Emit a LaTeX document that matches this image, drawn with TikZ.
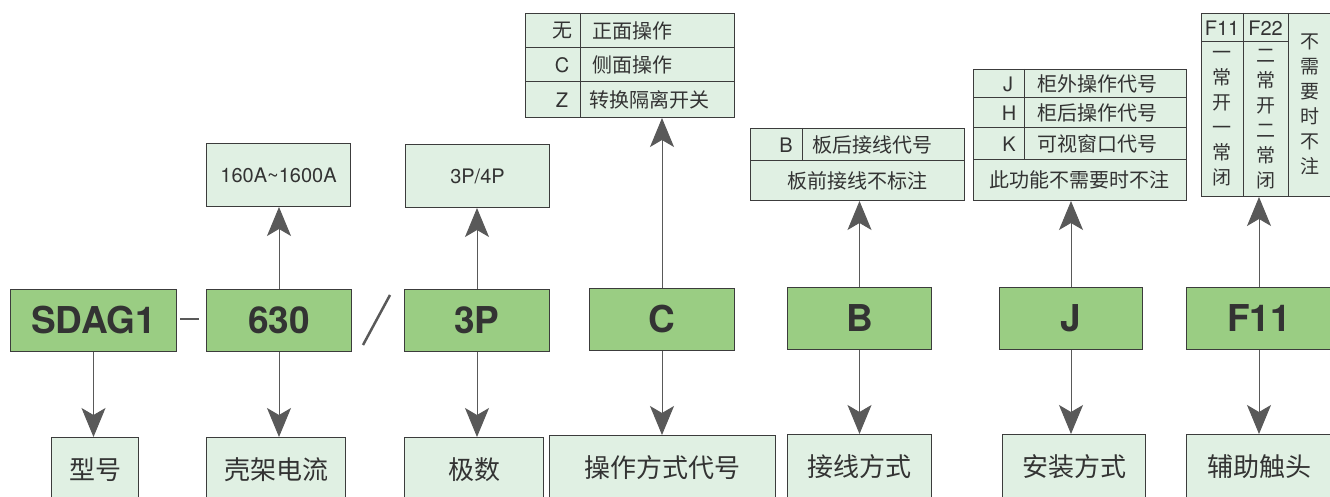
\documentclass[tikz,border=0pt]{standalone}
\usepackage{fontspec}
\setmainfont{TeX Gyre Heros}
\newfontfamily\cjk{Noto Sans CJK SC}
\usetikzlibrary{arrows.meta}
\definecolor{codegreen}{HTML}{9ACD83}
\definecolor{palegreen}{HTML}{E0F0E3}
\definecolor{boxline}{HTML}{3C3C3C}
\definecolor{arrowgray}{HTML}{595959}
\definecolor{txt}{HTML}{333333}
\tikzset{
  codebox/.style={draw=boxline, fill=codegreen, line width=1pt, anchor=north west, inner sep=0pt, minimum height=62pt, text=txt, font=\bfseries\fontsize{37}{37}\selectfont},
  namebox/.style={draw=boxline, fill=palegreen, line width=1pt, anchor=north west, inner sep=0pt, minimum height=64pt, text=txt, font=\cjk\fontsize{26}{26}\selectfont},
  infobox/.style={draw=boxline, fill=palegreen, line width=1pt, anchor=north west, inner sep=0pt, text=txt, font=\fontsize{20}{20}\selectfont},
  tabcode/.style={inner sep=0pt, text=txt, font=\fontsize{20}{20}\selectfont},
  tabtext/.style={inner sep=0pt, text=txt, font=\cjk\fontsize{20}{20}\selectfont},
  vtext/.style={inner sep=0pt, text=txt, align=center, font=\cjk\fontsize{19}{25}\selectfont},
  pointer/.style={draw=arrowgray, line width=1pt, -{Stealth[length=29pt,width=24pt,inset=7pt]}},
  sepline/.style={draw=arrowgray, line width=2.5pt}
}
\begin{document}
\begin{tikzpicture}[x=1pt,y=-1pt]
\useasboundingbox (0,0) rectangle (1330,497);

\node[codebox, minimum width=166pt] (sdag) at (10,289) {SDAG1};
\node[codebox, minimum width=145pt] (amp) at (206,289) {630};
\node[codebox, minimum width=145pt] (pole) at (404,289) {3P};
\node[codebox, minimum width=145pt] (oper) at (589,288) {C};
\node[codebox, minimum width=144pt] (wire) at (787,287) {B};
\node[codebox, minimum width=143pt] (mount) at (999,287) {J};
\node[codebox, minimum width=145pt] (aux) at (1186,287) {F11};
\draw[sepline] (180,319) -- (199,319);
\draw[sepline] (363,345) -- (390,295);

\node[namebox, minimum width=87pt] (model) at (51,437) {型号};
\node[namebox, minimum width=139pt] (frame) at (206,437) {壳架电流};
\node[namebox, minimum width=139pt] (poles) at (404,437) {极数};
\node[namebox, minimum width=226pt] (opmode) at (549,435) {操作方式代号};
\node[namebox, minimum width=144pt] (wiring) at (787,434) {接线方式};
\node[namebox, minimum width=143pt] (install) at (1002,434) {安装方式};
\node[namebox, minimum width=145pt] (contact) at (1186,434) {辅助触头};

\node[infobox, minimum width=144pt, minimum height=63pt] (ampinfo) at (206,143) {160A\textasciitilde1600A};
\node[infobox, minimum width=144pt, minimum height=63pt] (poleinfo) at (405,144) {3P/4P};

\node[infobox, minimum width=209pt, minimum height=104pt] (opinfo) at (525,13) {};
\draw[boxline, line width=1pt] (525,48) -- (734,48) (525,82) -- (734,82) (580,13) -- (580,117);
\node[tabcode] (op0) at (562,31) {\cjk 无};
\node[tabcode] (op1) at (562,65) {C};
\node[tabcode] (op2) at (562,100) {Z};
\node[tabtext, anchor=west] (op0t) at (592,31) {正面操作};
\node[tabtext, anchor=west] (op1t) at (592,65) {侧面操作};
\node[tabtext, anchor=west] (op2t) at (589,100) {转换隔离开关};

\node[infobox, minimum width=214pt, minimum height=72pt] (wireinfo) at (750,128) {};
\draw[boxline, line width=1pt] (750,161) -- (964,161) (802,128) -- (802,161);
\node[tabcode] (wr0) at (786,145) {B};
\node[tabtext, anchor=west] (wr0t) at (812,145) {板后接线代号};
\node[tabtext] (wr1t) at (857,181) {板前接线不标注};

\node[infobox, minimum width=213pt, minimum height=131pt] (mountinfo) at (973,69) {};
\draw[boxline, line width=1pt] (973,98) -- (1186,98) (973,128) -- (1186,128) (973,160) -- (1186,160) (1024,69) -- (1024,160);
\node[tabcode] (mt0) at (1008,84) {J};
\node[tabcode] (mt1) at (1009,113) {H};
\node[tabcode] (mt2) at (1009,144) {K};
\node[tabtext, anchor=west] (mt0t) at (1037,84) {柜外操作代号};
\node[tabtext, anchor=west] (mt1t) at (1037,113) {柜后操作代号};
\node[tabtext, anchor=west] (mt2t) at (1037,144) {可视窗口代号};
\node[tabtext] (mt3t) at (1079,180) {此功能不需要时不注};

\node[infobox, minimum width=131pt, minimum height=183pt] (auxinfo) at (1201,13) {};
\draw[boxline, line width=1pt] (1201,42) -- (1288,42) (1243,13) -- (1243,196) (1288,13) -- (1288,196);
\node[tabcode] (ax0) at (1222,28) {F11};
\node[tabcode] (ax1) at (1265.5,28) {F22};
\node[vtext] (ax0t) at (1222,119) {一\\常\\开\\一\\常\\闭};
\node[vtext] (ax1t) at (1265.5,119) {二\\常\\开\\二\\常\\闭};
\node[vtext] (ax2t) at (1310,104) {不\\需\\要\\时\\不\\注};

\draw[pointer] (amp.north) -- (amp.north |- ampinfo.south);
\draw[pointer] (pole.north) -- (pole.north |- poleinfo.south);
\draw[pointer] (oper.north) -- (oper.north |- opinfo.south);
\draw[pointer] (wire.north) -- (wire.north |- wireinfo.south);
\draw[pointer] (mount.north) -- (mount.north |- mountinfo.south);
\draw[pointer] (aux.north) -- (aux.north |- auxinfo.south);

\draw[pointer] (sdag.south) -- (sdag.south |- model.north);
\draw[pointer] (amp.south) -- (amp.south |- frame.north);
\draw[pointer] (pole.south) -- (pole.south |- poles.north);
\draw[pointer] (oper.south) -- (oper.south |- opmode.north);
\draw[pointer] (wire.south) -- (wire.south |- wiring.north);
\draw[pointer] (mount.south) -- (mount.south |- install.north);
\draw[pointer] (aux.south) -- (aux.south |- contact.north);
\end{tikzpicture}
\end{document}
